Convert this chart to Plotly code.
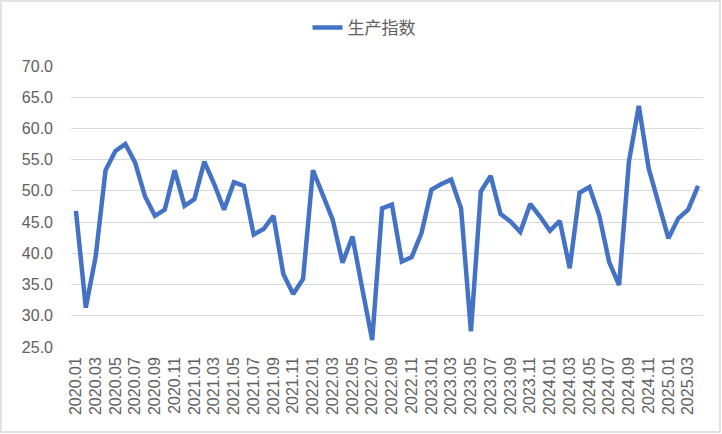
import plotly.graph_objects as go

months = [f"{y}.{m:02d}" for y in range(2020, 2026) for m in range(1, 13)][:64]
values = [46.8, 31.3, 39.5, 53.3, 56.4, 57.5, 54.5, 49.1, 46.0, 47.0,
          53.3, 47.6, 48.7, 54.7, 51.1, 47.0, 51.4, 50.8, 43.0, 43.9,
          46.0, 36.7, 33.5, 35.9, 53.3, 49.3, 45.4, 38.5, 42.7, 34.3,
          26.1, 47.2, 47.8, 38.7, 39.4, 43.3, 50.2, 51.1, 51.8, 47.2,
          27.5, 49.9, 52.4, 46.3, 45.1, 43.4, 47.9, 45.9, 43.6, 45.2,
          37.6, 49.7, 50.6, 46.0, 38.6, 34.9, 54.7, 63.6, 53.6, 48.0,
          42.4, 45.6, 47.0, 50.8]
tick_labels = months[::2]
y_ticks = [25, 30, 35, 40, 45, 50, 55, 60, 65, 70]
series_name = "生产指数"

font_family = "Liberation Sans, Arial, Noto Sans CJK SC, sans-serif"
text_color = "#606060"

fig = go.Figure()
fig.add_trace(go.Scatter(
    x=months, y=values, mode="lines", name=series_name,
    line=dict(color="#4472C4", width=4.5),
))

W, H = 722, 434
L, R, T, B = 71, 19, 66, 87
pw, ph = W - L - R, H - T - B

fig.update_layout(
    width=W, height=H,
    margin=dict(l=L, r=R, t=T, b=B, autoexpand=False),
    paper_bgcolor="white", plot_bgcolor="white",
    font=dict(family=font_family, color=text_color, size=16),
    showlegend=True,
    legend=dict(orientation="h", x=(364 - L) / pw, xanchor="center",
                y=1 + (T - 28) / ph, yanchor="middle", bgcolor="rgba(0,0,0,0)",
                font=dict(size=17, color=text_color, family="Noto Sans CJK SC, sans-serif")),
    xaxis=dict(
        type="category", range=[-0.5, 63.5], automargin=False,
        tickmode="array", tickvals=tick_labels, ticktext=tick_labels,
        tickangle=-90, tickfont=dict(size=16, color=text_color),
        showgrid=False, showline=False, zeroline=False, ticks="",
        ticklabelstandoff=6,
    ),
    yaxis=dict(
        range=[25, 70], tickvals=y_ticks, automargin=False,
        ticktext=[f"{v:.1f}" for v in y_ticks],
        showgrid=True, gridcolor="#d9d9d9", gridwidth=1.3,
        zeroline=False, showline=False, ticks="", ticklabelstandoff=17,
        tickfont=dict(size=16, color=text_color),
    ),
    shapes=[dict(type="rect", xref="paper", yref="paper",
                 x0=(1 - L) / pw, x1=(W - 2 - L) / pw,
                 y0=-(H - 2 - (T + ph)) / ph, y1=1 + (T - 1) / ph,
                 line=dict(color="#d9d9d9", width=1.5), layer="below")],
)

fig.write_html("out.html", config={"displayModeBar": False},
               post_script="document.body.style.margin='0';document.body.style.overflow='hidden';")
